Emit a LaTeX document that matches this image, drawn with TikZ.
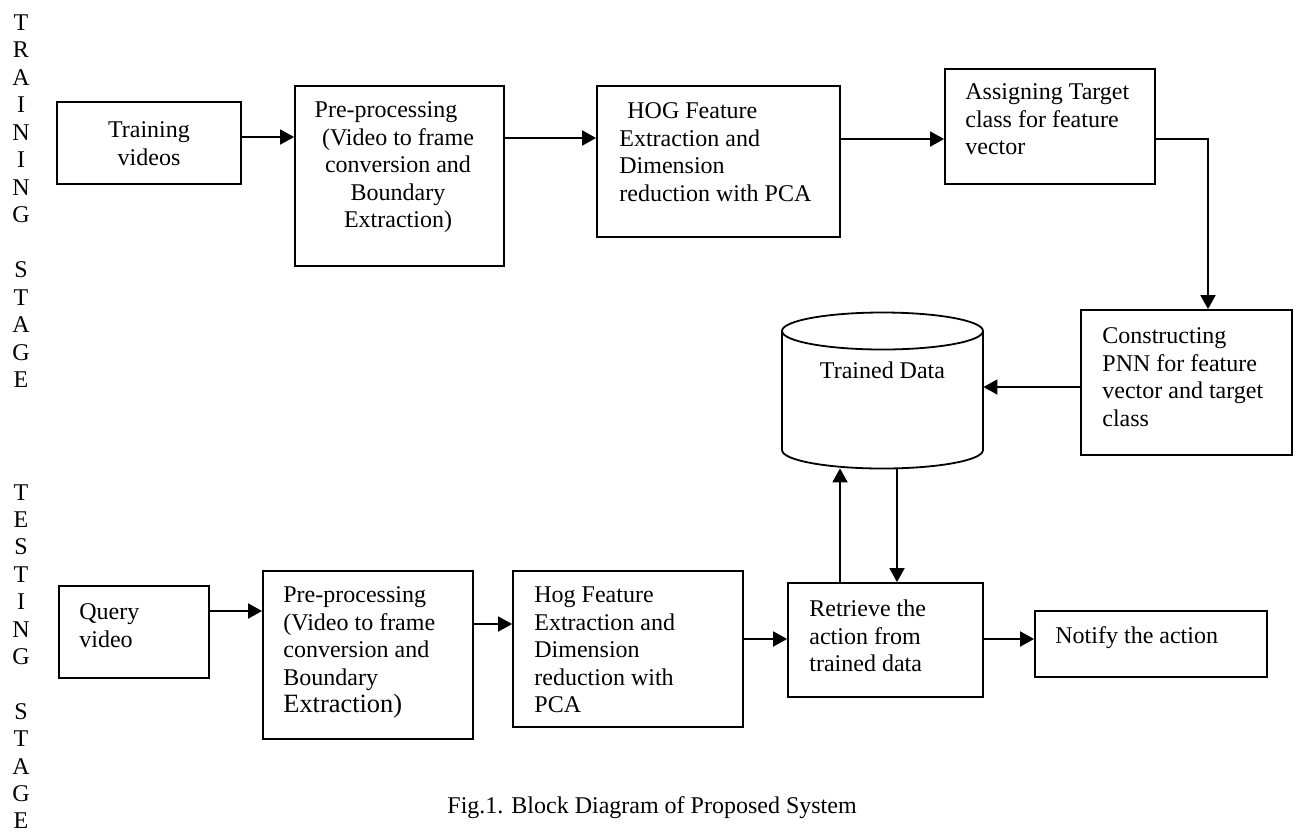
\documentclass[tikz,border=0pt]{standalone}
\usepackage{fontspec}
\setmainfont{Liberation Serif}
\usetikzlibrary{arrows.meta,fit}

\begin{document}
\begin{tikzpicture}[x=0.5pt,y=-0.5pt]
\tikzset{
  box/.style={draw, line width=0.9pt, inner sep=0pt},
  txt/.style={inner sep=0pt, font=\fontsize{12}{13.75}\selectfont, align=left, anchor=north west},
  ctxt/.style={inner sep=0pt, font=\fontsize{12}{13.75}\selectfont, align=center, anchor=north},
  arr/.style={line width=0.9pt, -{Triangle[length=7pt,width=7.5pt]}},
  line/.style={line width=0.9pt},
  letter/.style={inner sep=0pt, anchor=base, font=\fontsize{12}{13.75}\selectfont}
}
\fill[white] (0,0) rectangle (1300,832);
\useasboundingbox (0,0) rectangle (1300,832);

% stage labels written letter by letter down the left margin
\foreach \c [count=\i from 0] in {T,R,A,I,N,I,N,G}
  \node[letter] (trn-\i) at (21,{22+27.5*\i+8}) {\c};
\foreach \c [count=\i from 0] in {S,T,A,G,E}
  \node[letter] (trs-\i) at (21,{22+27.5*(\i+9)+8}) {\c};
\foreach \c [count=\i from 0] in {T,E,S,T,I,N,G}
  \node[letter] (tsn-\i) at (21,{492+27.4*\i+8}) {\c};
\foreach \c [count=\i from 0] in {S,T,A,G,E}
  \node[letter] (tss-\i) at (21,{492+27.4*(\i+8)+8}) {\c};

% training stage blocks
\node[box, fit={(57,102) (241,184)}] (tv) {};
\node[box, fit={(295,86) (504,266)}] (pp1) {};
\node[box, fit={(597,86) (840,237)}] (hog1) {};
\node[box, fit={(945,69) (1155,184)}] (asg) {};
\node[box, fit={(1081,310) (1292,455)}] (pnn) {};

\node[ctxt] (tv-t) at (149,118) {\strut Training\\videos};
\node[ctxt] (pp1-t) at (398,98) {\strut Pre-processing\hspace*{12pt}\\(Video to frame\\conversion and\\Boundary\\Extraction)};
\node[txt] (hog1-t) at (619,99) {\strut\hspace*{4pt}HOG Feature\\Extraction and\\Dimension\\reduction with PCA};
\node[txt] (asg-t) at (965,80) {\strut Assigning Target\\class for feature\\vector};
\node[txt] (pnn-t) at (1102,324) {\strut Constructing\\PNN for feature\\vector and target\\class};

% trained data store
\node[inner sep=0pt, fit={(782,312) (983,468)}] (db) {};
\draw[line] (882.5,331) ellipse [x radius=50.25pt, y radius=9.25pt];
\draw[line] (782,331) -- (782,450)
  arc[start angle=180, end angle=360, x radius=50.25pt, y radius=9.25pt]
  -- (983,331);
\node[ctxt] (db-t) at (882.5,359) {\strut Trained Data};

% testing stage blocks
\node[box, fit={(59,586) (209,678)}] (qv) {};
\node[box, fit={(263,571) (473,739)}] (pp2) {};
\node[box, fit={(513,571) (743,727)}] (hog2) {};
\node[box, fit={(788,583) (983,697)}] (ret) {};
\node[box, fit={(1035,611) (1267,677)}] (ntf) {};

\node[txt] (qv-t) at (79,600) {\strut Query\\video};
\node[txt] (pp2-t) at (283,583) {\strut Pre-processing\\(Video to frame\\conversion and\\Boundary\\{\fontsize{13.2}{13.75}\selectfont Extraction)}};
\node[txt] (hog2-t) at (534,583) {\strut Hog Feature\\Extraction and\\Dimension\\reduction with\\PCA};
\node[txt] (ret-t) at (809,597) {\strut Retrieve the\\action from\\trained data};
\node[txt] (ntf-t) at (1055,624) {\strut Notify the action};

% connectors
\draw[arr] (tv.east |- 0,137) -- (pp1.west |- 0,137);
\draw[arr] (pp1.east |- 0,138) -- (hog1.west |- 0,138);
\draw[arr] (hog1.east |- 0,139) -- (asg.west |- 0,139);
\draw[arr] (asg.east |- 0,139) -| (pnn.north -| 1208,0);
\draw[arr] (pnn.west |- 0,387) -- (db.east |- 0,387);
\draw[arr] (ret.north -| 840,0) -- (db.south -| 840,0);
\draw[arr] (db.south -| 897,0) -- (ret.north -| 897,0);
\draw[arr] (qv.east |- 0,611) -- (pp2.west |- 0,611);
\draw[arr] (pp2.east |- 0,624) -- (hog2.west |- 0,624);
\draw[arr] (hog2.east |- 0,639) -- (ret.west |- 0,639);
\draw[arr] (ret.east |- 0,639) -- (ntf.west |- 0,639);

% caption
\node[txt] (cap) at (447,794) {\strut Fig.1. Block Diagram of Proposed System};
\end{tikzpicture}
\end{document}
